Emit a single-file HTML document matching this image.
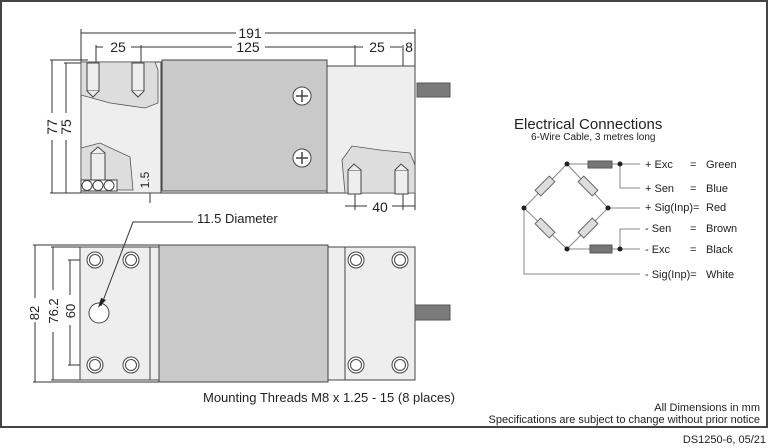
<!DOCTYPE html>
<html><head><meta charset="utf-8"><style>
html,body{margin:0;padding:0;background:#fff;}
svg{display:block;font-family:"Liberation Sans",Arial,sans-serif;}
</style></head><body>
<svg width="770" height="448" viewBox="0 0 770 448" xmlns="http://www.w3.org/2000/svg">
<rect x="1" y="1" width="766" height="426" fill="#fff" stroke="#444" stroke-width="2"/>
<g stroke="#333" stroke-width="1" fill="none">
<!-- top view dims -->
<line x1="81" y1="33" x2="236" y2="33"/><line x1="265" y1="33" x2="415" y2="33"/>
<line x1="96" y1="47" x2="103" y2="47"/><line x1="131" y1="47" x2="232" y2="47"/><line x1="265" y1="47" x2="363" y2="47"/>
<line x1="390" y1="47" x2="402" y2="47"/>
<line x1="81" y1="29" x2="81" y2="193"/><line x1="415" y1="29" x2="415" y2="210"/>
<line x1="96" y1="45" x2="96" y2="100"/><line x1="141" y1="45" x2="141" y2="100"/>
<line x1="355" y1="45" x2="355" y2="210"/><line x1="403" y1="45" x2="403" y2="210"/>
<line x1="52" y1="60" x2="52" y2="113"/><line x1="52" y1="140" x2="52" y2="193"/>
<line x1="66" y1="63" x2="66" y2="113"/><line x1="66" y1="140" x2="66" y2="193"/>
<line x1="50" y1="60" x2="88" y2="60"/><line x1="64" y1="63" x2="88" y2="63"/>
<line x1="50" y1="193" x2="345" y2="193"/>
<line x1="150" y1="173" x2="150" y2="203"/>
<line x1="345" y1="206" x2="367" y2="206"/><line x1="392" y1="206" x2="415" y2="206"/>
</g>
<!-- top view body -->
<rect x="81" y="62" width="80" height="131" fill="#eee" stroke="#444"/>
<path d="M81 95 L110 103 L145 108 L158 103 L158 70 L155 62 L81 62Z" fill="#ddd" stroke="#555" stroke-width="0.8"/>
<path d="M81 148 L100 143 L130 157 L133 190 L81 190Z" fill="#ddd" stroke="#555" stroke-width="0.8"/>
<rect x="87" y="63" width="12" height="28" fill="#eee" stroke="#444"/><path d="M87 91 L93 97 L99 91" fill="#eee" stroke="#444"/>
<rect x="132" y="63" width="12" height="28" fill="#eee" stroke="#444"/><path d="M132 91 L138 97 L144 91" fill="#eee" stroke="#444"/>
<rect x="91" y="153" width="14" height="27" fill="#eee" stroke="#444"/><path d="M91 153 L98 147 L105 153" fill="#eee" stroke="#444"/>
<rect x="81" y="180" width="36" height="11" fill="#fff" stroke="#444"/>
<circle cx="87" cy="185.5" r="5" fill="#fff" stroke="#444"/><circle cx="98" cy="185.5" r="5" fill="#fff" stroke="#444"/><circle cx="109" cy="185.5" r="5" fill="#fff" stroke="#444"/>
<rect x="327" y="66" width="88" height="127" fill="#eee" stroke="#444"/>
<path d="M345 193 L342 160 L352 146 L380 150 L410 153 L415 165 L415 193Z" fill="#ddd" stroke="#555" stroke-width="0.8"/>
<rect x="348" y="170" width="13" height="24" fill="#eee" stroke="#444"/><path d="M348 170 L354 164 L361 170" fill="#eee" stroke="#444"/>
<rect x="395" y="170" width="13" height="24" fill="#eee" stroke="#444"/><path d="M395 170 L401 164 L408 170" fill="#eee" stroke="#444"/>
<rect x="162" y="60" width="165" height="131" fill="#c9c9c9" stroke="#444"/>
<rect x="417" y="83" width="33" height="14" fill="#7a7a7a" stroke="#555"/>
<g fill="#fff" stroke="#444"><circle cx="302" cy="96" r="9"/><circle cx="302" cy="158" r="9"/></g>
<g stroke="#444" stroke-width="1.5"><path d="M296 96H308M302 90V102M296 158H308M302 152V164"/></g>
<g font-size="14" fill="#222" text-anchor="middle">
<text x="250" y="38">191</text>
<text x="118" y="52">25</text><text x="248" y="52">125</text><text x="377" y="52">25</text><text x="409" y="52">8</text>
<text x="380" y="212">40</text>
<text transform="translate(57,127) rotate(-90)">77</text>
<text transform="translate(71,127) rotate(-90)">75</text>
<text transform="translate(149,180) rotate(-90)" font-size="12">1.5</text>
</g>
<!-- bottom view -->
<g stroke="#333" fill="none">
<line x1="35" y1="245" x2="35" y2="298"/><line x1="35" y1="322" x2="35" y2="382"/>
<line x1="53" y1="247" x2="53" y2="290"/><line x1="53" y1="332" x2="53" y2="380"/>
<line x1="70" y1="260" x2="70" y2="295"/><line x1="70" y1="325" x2="70" y2="365"/>
<line x1="33" y1="245" x2="160" y2="245"/><line x1="33" y1="382" x2="160" y2="382"/>
<line x1="51" y1="247" x2="80" y2="247"/><line x1="51" y1="380" x2="80" y2="380"/>
<line x1="68" y1="260" x2="130" y2="260"/><line x1="68" y1="365" x2="130" y2="365"/>
</g>
<rect x="80" y="247" width="70" height="133" fill="#eee" stroke="#444"/>
<rect x="150" y="247" width="10" height="133" fill="#eee" stroke="#444"/>
<rect x="327" y="247" width="18" height="133" fill="#eee" stroke="#444"/>
<rect x="345" y="247" width="70" height="133" fill="#eee" stroke="#444"/>
<rect x="159" y="245" width="169" height="137" fill="#c9c9c9" stroke="#444"/>
<rect x="415" y="305" width="35" height="15" fill="#7a7a7a" stroke="#555"/>
<g fill="#fff" stroke="#444">
<circle cx="95" cy="260" r="8"/><circle cx="131" cy="260" r="8"/><circle cx="95" cy="365" r="8"/><circle cx="131" cy="365" r="8"/>
<circle cx="356" cy="260" r="8"/><circle cx="400" cy="260" r="8"/><circle cx="356" cy="365" r="8"/><circle cx="400" cy="365" r="8"/>
<circle cx="95" cy="260" r="5.5"/><circle cx="131" cy="260" r="5.5"/><circle cx="95" cy="365" r="5.5"/><circle cx="131" cy="365" r="5.5"/>
<circle cx="356" cy="260" r="5.5"/><circle cx="400" cy="260" r="5.5"/><circle cx="356" cy="365" r="5.5"/><circle cx="400" cy="365" r="5.5"/>
<circle cx="99" cy="313" r="10"/>
</g>
<path d="M193 222 H133 L101 306" fill="none" stroke="#333"/>
<path d="M98 308 L101 298 L106 300Z" fill="#222"/>
<g font-size="13" fill="#222">
<text x="197" y="223">11.5 Diameter</text>
<text x="203" y="402">Mounting Threads M8 x 1.25 - 15 (8 places)</text>
<text transform="translate(39,313) rotate(-90)" text-anchor="middle">82</text>
<text transform="translate(58,311) rotate(-90)" text-anchor="middle">76.2</text>
<text transform="translate(75,311) rotate(-90)" text-anchor="middle">60</text>
</g>
<!-- electrical -->
<text x="514" y="129" font-size="15" fill="#222">Electrical Connections</text>
<text x="531" y="140" font-size="10" fill="#222">6-Wire Cable, 3 metres long</text>
<g stroke="#888" stroke-width="1" fill="none">
<path d="M567 164 L524 208 L567 249 L608 208Z"/>
<path d="M567 164 H640 M620 164 V188 H640 M608 208 H640 M567 249 H640 M620 249 V229 H640 M524 208 V274 H640"/>
</g>
<g fill="#ddd" stroke="#666">
<rect x="-10" y="-4" width="20" height="8" transform="translate(545,186) rotate(-45)"/>
<rect x="-10" y="-4" width="20" height="8" transform="translate(588,186) rotate(45)"/>
<rect x="-10" y="-4" width="20" height="8" transform="translate(545,228) rotate(45)"/>
<rect x="-10" y="-4" width="20" height="8" transform="translate(588,228) rotate(-45)"/>
</g>
<rect x="588" y="161" width="24" height="7" fill="#777" stroke="#555"/>
<rect x="590" y="245" width="22" height="8" fill="#777" stroke="#555"/>
<g fill="#222"><circle cx="567" cy="164" r="2.5"/><circle cx="620" cy="164" r="2.5"/><circle cx="524" cy="208" r="2.5"/><circle cx="608" cy="208" r="2.5"/><circle cx="567" cy="249" r="2.5"/><circle cx="620" cy="249" r="2.5"/></g>
<g font-size="11" fill="#222">
<text x="645" y="168">+ Exc</text><text x="690" y="168">=</text><text x="706" y="168">Green</text>
<text x="645" y="192">+ Sen</text><text x="690" y="192">=</text><text x="706" y="192">Blue</text>
<text x="645" y="211">+ Sig(Inp)=</text><text x="706" y="211">Red</text>
<text x="645" y="232">-  Sen</text><text x="690" y="232">=</text><text x="706" y="232">Brown</text>
<text x="645" y="253">-  Exc</text><text x="690" y="253">=</text><text x="706" y="253">Black</text>
<text x="645" y="278">-  Sig(Inp)=</text><text x="706" y="278">White</text>
</g>
<g font-size="11" fill="#222" text-anchor="end">
<text x="760" y="411">All Dimensions in mm</text>
<text x="760" y="423">Specifications are subject to change without prior notice</text>
<text x="766" y="443">DS1250-6, 05/21</text>
</g>
</svg>
</body></html>
